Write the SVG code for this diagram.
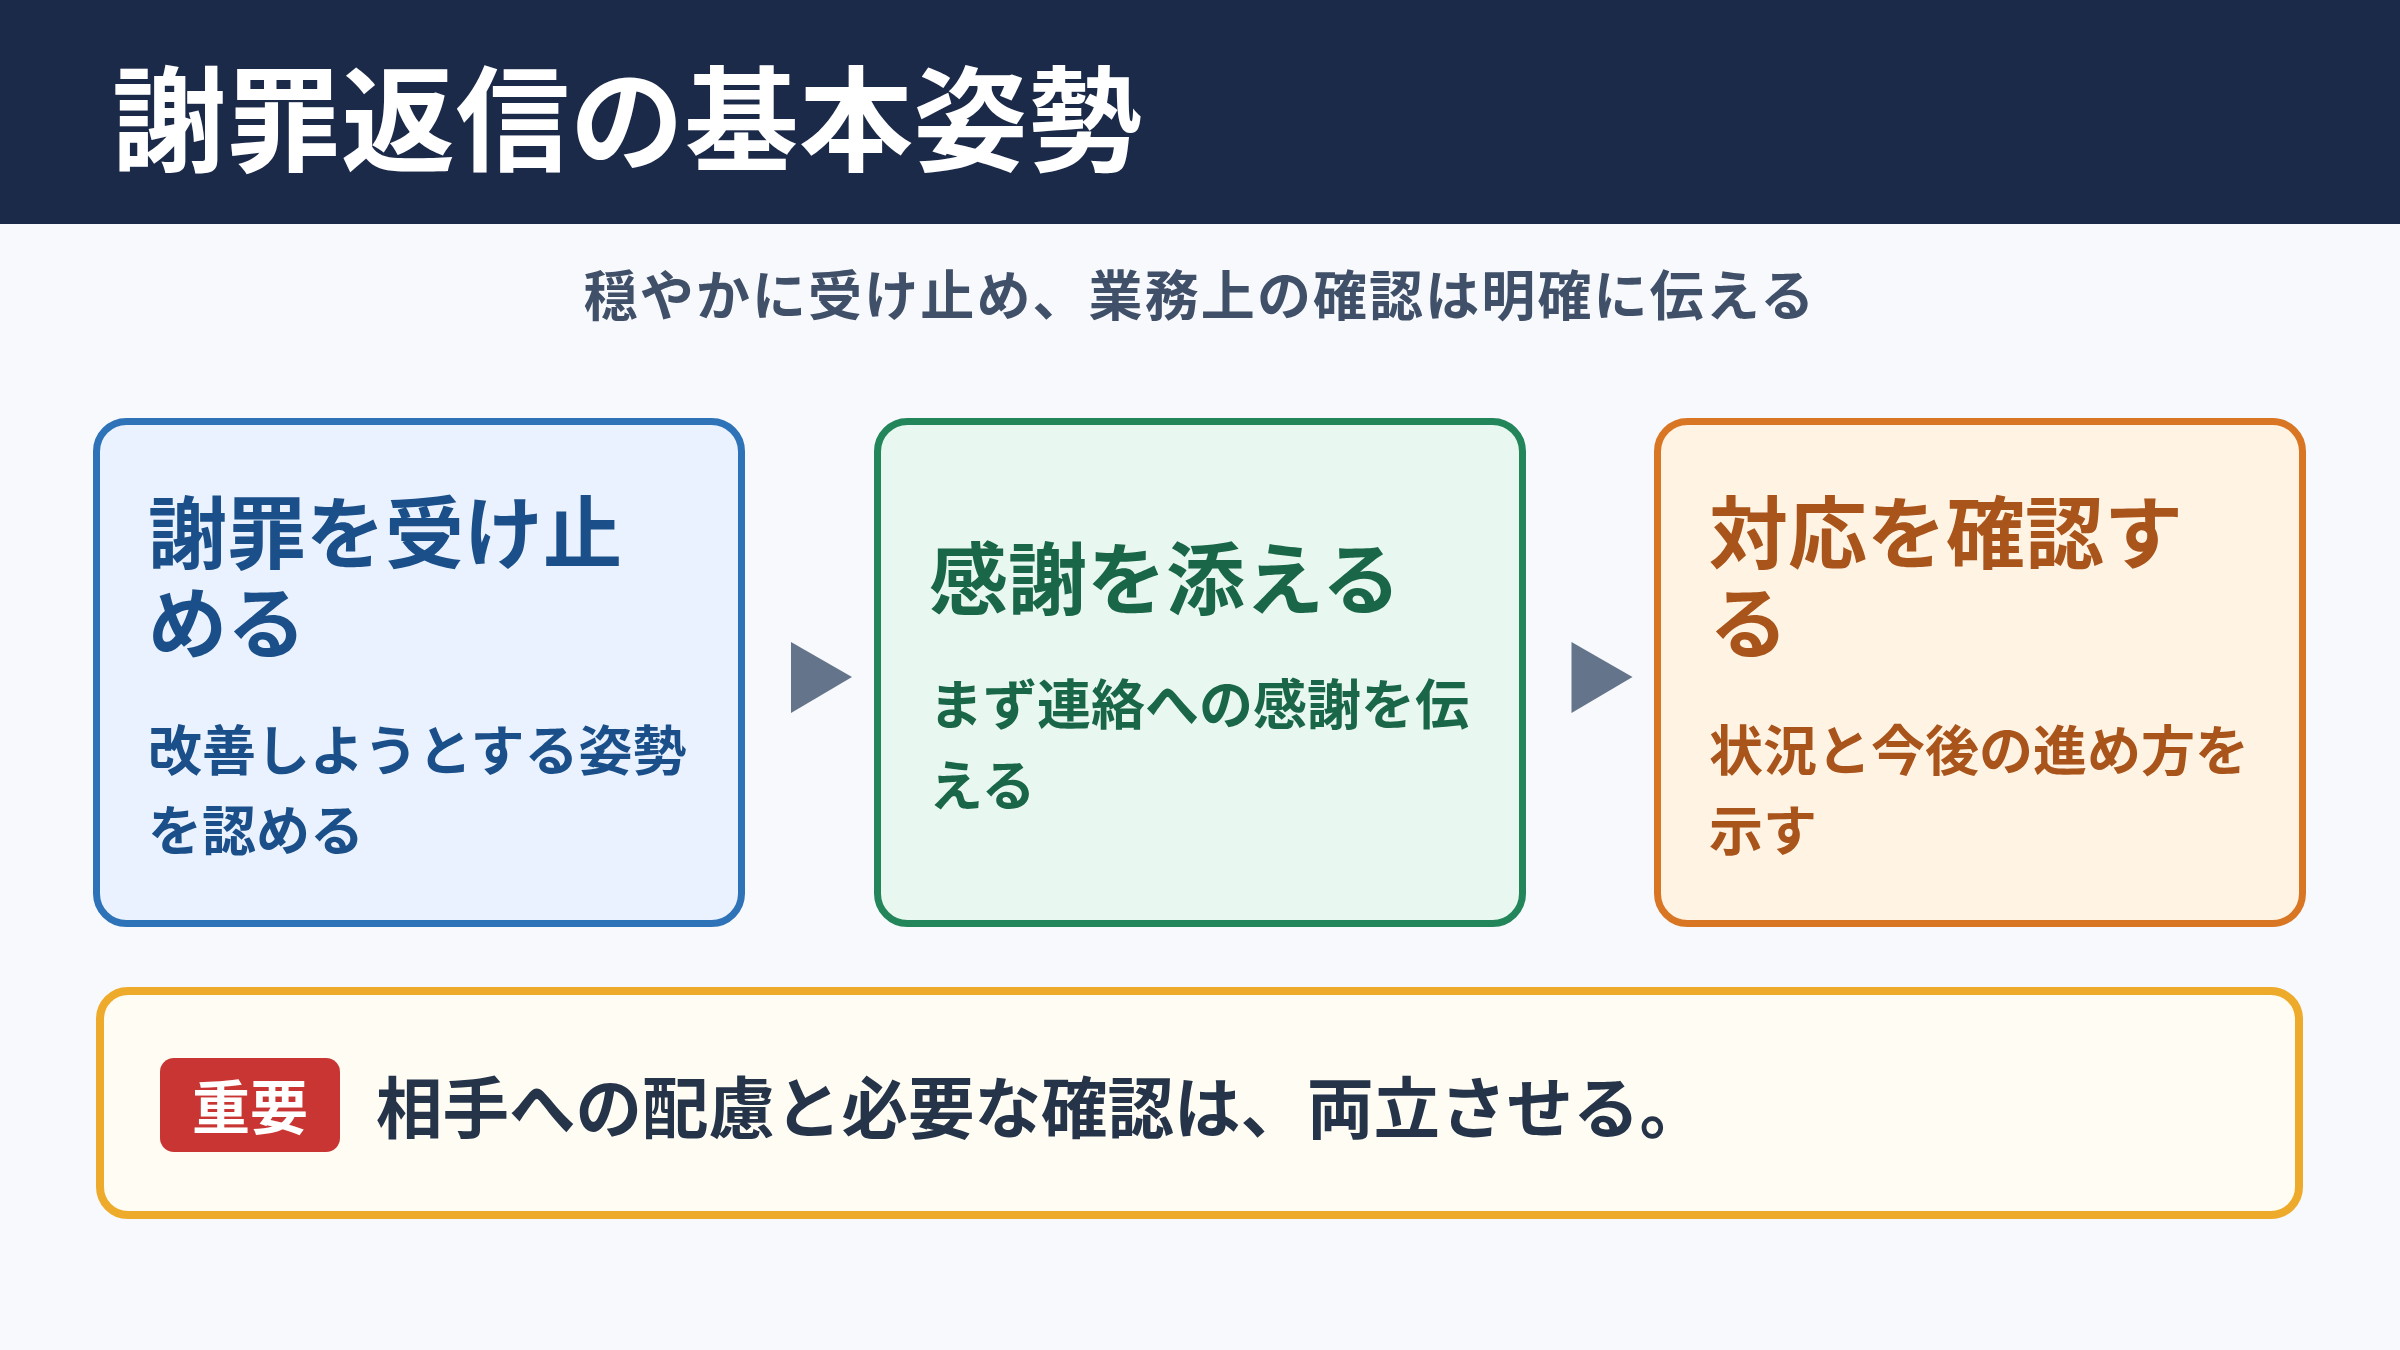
<svg xmlns="http://www.w3.org/2000/svg" width="2400" height="1350" viewBox="0 0 2400 1350">
<style>
text{font-family:"Noto Sans CJK JP","Noto Sans",sans-serif;font-weight:700}
.title{fill:#ffffff;font-size:114px;letter-spacing:0.5px}
.sub{fill:#415069;font-size:54px;letter-spacing:2.1px}
.card{stroke-width:7}
.h{font-size:79px}
.d{font-size:54px}
.arrow{fill:#64748b}
</style>
<rect x="0" y="0" width="2400" height="1350" fill="#f7f9fc"/>
<g id="header">
<rect x="0" y="0" width="2400" height="224" fill="#1c2a4a"/>
<text class="title" x="112" y="162">謝罪返信の基本姿勢</text>
</g>
<g id="subtitle">
<text class="sub" x="1200" y="316" text-anchor="middle">穏やかに受け止め、業務上の確認は明確に伝える</text>
</g>
<g id="card1">
<rect class="card" x="96.5" y="421.5" width="645" height="502" rx="30" fill="#e9f2fe" stroke="#2e72b8"/>
<text class="h" fill="#1b4f8a" x="148" y="563">謝罪を受け止</text>
<text class="h" fill="#1b4f8a" x="148" y="653">める</text>
<text class="d" fill="#1b4f8a" x="148" y="771">改善しようとする姿勢</text>
<text class="d" fill="#1b4f8a" x="148" y="851">を認める</text>
</g>
<g id="card2">
<rect class="card" x="877.5" y="421.5" width="645" height="502" rx="30" fill="#e8f7ef" stroke="#23855a"/>
<text class="h" fill="#1a6649" x="929" y="609">感謝を添える</text>
<text class="d" fill="#1a6649" x="929" y="725">まず連絡への感謝を伝</text>
<text class="d" fill="#1a6649" x="929" y="806">える</text>
</g>
<g id="card3">
<rect class="card" x="1657.5" y="421.5" width="645" height="502" rx="30" fill="#fff3e4" stroke="#d97624"/>
<text class="h" fill="#a8541a" x="1709" y="563">対応を確認す</text>
<text class="h" fill="#a8541a" x="1709" y="653">る</text>
<text class="d" fill="#a8541a" x="1709" y="771">状況と今後の進め方を</text>
<text class="d" fill="#a8541a" x="1709" y="851">示す</text>
</g>
<g id="connectors">
<polygon class="arrow" points="791,642 852,677 791,713"/>
<polygon class="arrow" points="1571.5,642 1632.5,677 1571.5,713"/>
</g>
<g id="note">
<rect x="100" y="991" width="2199" height="224" rx="28" fill="#fffcf4" stroke="#eeaa2a" stroke-width="8"/>
<rect x="160" y="1058" width="180" height="94" rx="14" fill="#c83532"/>
<text x="250" y="1129" text-anchor="middle" fill="#ffffff" font-size="58">重要</text>
<text x="376" y="1133" fill="#253449" font-size="66.5">相手への配慮と必要な確認は、両立させる。</text>
</g>
</svg>
